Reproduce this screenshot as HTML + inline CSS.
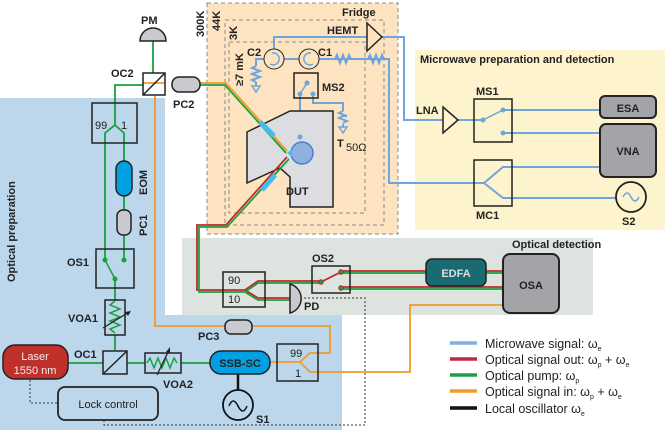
<!DOCTYPE html><html><head><meta charset="utf-8"><style>body{margin:0;background:#fff}svg{display:block}text{font-family:"Liberation Sans",sans-serif;font-weight:bold;font-size:11px;fill:#222}</style></head><body>
<svg width="665" height="430" viewBox="0 0 665 430">
<path d="M0 98H165V315H342V430H0Z" fill="#bcd7ec"/>
<rect x="182" y="238" width="411" height="77" fill="#dde4df"/>
<rect x="415" y="50" width="250" height="180" fill="#fdf3cc"/>
<rect x="207" y="3" width="191" height="231" fill="#fde3bf" stroke="#888" stroke-dasharray="4,3"/>
<rect x="225" y="20" width="159" height="205" fill="none" stroke="#888" stroke-dasharray="4,3"/>
<rect x="229" y="42" width="136" height="171" fill="none" stroke="#888" stroke-dasharray="4,3"/>
<text x="342" y="16" font-size="12">Fridge</text>
<text transform="translate(204,37) rotate(-90)" font-size="12">300K</text>
<text transform="translate(220,31) rotate(-90)" font-size="12">44K</text>
<text transform="translate(237,40) rotate(-90)" font-size="12">3K</text>
<text transform="translate(243,86) rotate(-90)" font-size="12">≥7 mK</text>
<text x="420" y="63" font-size="11.5">Microwave preparation and detection</text>
<text x="512" y="248" font-size="11.5">Optical detection</text>
<text transform="translate(15,282) rotate(-90)" font-size="13.5">Optical   preparation</text>
<g fill="none" stroke="#6fa5dd" stroke-width="2">
<path d="M274 49V37H367M382 37H404V120H443M458 120H483M503 110H600M503 133H600"/>
<path d="M264 59H256V66M256 82V86M284 59H299M319 59H389V183H484L503 167H600M484 183L503 198H616"/>
<path d="M256 66l-4 2l8 3l-8 3l8 3l-8 3l4 2M335 59l2-4l3 8l3-8l3 8l3-8l2 4M368 59l2-4l3 8l3-8l3 8l3-8l2 4"/>
<path d="M300 94V137M313 94V103H343V111M343 124V127M343 111l-4 2l8 3l-4 0l-4 2l8 3l-4 2"/>
</g>
<path d="M252 86h8l-4 6zM339 127h8l-4 6z" fill="none" stroke="#6fa5dd" stroke-width="1.5"/>
<circle cx="274" cy="59" r="10" fill="#fde3bf" stroke="#222"/><path d="M272 53a6 6 0 1 1 -2 11" fill="none" stroke="#6fa5dd" stroke-width="1.5"/>
<circle cx="309" cy="59" r="10" fill="#fde3bf" stroke="#222"/><path d="M311 53a6 6 0 1 0 2 11" fill="none" stroke="#6fa5dd" stroke-width="1.5"/>
<text x="247" y="56" font-size="12">C2</text><text x="318" y="56" font-size="12">C1</text>
<path d="M367 23L382 37L367 51Z" fill="none" stroke="#222" stroke-width="1.5"/>
<text x="327" y="34" font-size="12">HEMT</text>
<rect x="294" y="73" width="24" height="25" fill="none" stroke="#222" stroke-width="1.5"/>
<path d="M300 94L307 83" stroke="#6fa5dd" stroke-width="1.5"/>
<circle cx="300" cy="94" r="2.5" fill="#6fa5dd"/><circle cx="307" cy="83" r="2.5" fill="#6fa5dd"/><circle cx="313" cy="94" r="2.5" fill="#6fa5dd"/>
<text x="322" y="91" font-size="12">MS2</text>
<text x="337" y="147" font-size="14">T</text><text x="346" y="151" font-size="6" style="font-weight:normal">50Ω</text>
<path d="M247 132L290 111H333V207H290V177L280 168L247 183Z" fill="#dcdde0" stroke="#222" stroke-width="1.5"/>
<circle cx="302" cy="153" r="11" fill="#8fb0e0" stroke="#4a7fc8" stroke-width="1.5"/>
<circle cx="300" cy="137" r="2.5" fill="#6fa5dd"/>
<path d="M287 153l5-4v8z" fill="#3cc0f0"/>
<text x="286" y="195" font-size="13">DUT</text>
<g fill="none" stroke-width="1.8">
<path d="M153 41V73" stroke="#1aa040"/>
<path d="M155 95V326H225M252 326H330V353H310L300 362L310 372H410V305H503M270 362H300" stroke="#f39b25"/>
<path d="M200 83H226L287 151" stroke="#f39b25"/>
<path d="M200 85H225L286 153M143 85H115V125L105 133V260M115 125L124 133V161M124 196V210M124 235V260M115 279V300M115 335V350M68 363H103M127 363H145M181 363H210" stroke="#1aa040"/>
<path d="M143 83H165" stroke="#f39b25"/>
<path d="M287 157L226 225H197V290H224L245 290L258 281H321M341 271H426M486 271H504M341 287H504M245 290L258 298H290" stroke="#c0282c"/>
<path d="M289 159L227 227H199V292H224L245 292L258 283H321M341 273H426M486 273H504M341 289H504M245 292L258 300H290" stroke="#1aa040"/>
<path d="M321 282L341 272" stroke="#c0282c"/>
</g>
<path d="M260 122l14 14" stroke="#3cc0f0" stroke-width="5"/>
<path d="M262 190l13-15" stroke="#3cc0f0" stroke-width="5"/>
<path d="M238 374V390" stroke="#111" stroke-width="2.5"/>
<path d="M30 380V403H58M104 420V425H365V298H303" fill="none" stroke="#333" stroke-dasharray="2,2"/>
<path d="M140 41a13 13 0 0 1 26 0z" fill="#c8cacf" stroke="#222" stroke-width="1.5"/>
<text x="141" y="24" font-size="12">PM</text>
<rect x="143" y="73" width="22" height="22" fill="none" stroke="#222" stroke-width="1.5"/><path d="M143 95L165 73" stroke="#222" stroke-width="1.5"/>
<text x="111" y="77" font-size="12">OC2</text>
<rect x="172" y="77" width="28" height="15" rx="7" fill="#c8cacf" stroke="#222" stroke-width="1.5"/>
<text x="173" y="108" font-size="12">PC2</text>
<rect x="92" y="103" width="45" height="40" fill="none" stroke="#222" stroke-width="1.5"/>
<text x="95" y="129" font-size="12" style="font-weight:normal">99</text><text x="121" y="129" font-size="12" style="font-weight:normal">1</text>
<rect x="116" y="161" width="16" height="35" rx="8" fill="#00a0e3" stroke="#222" stroke-width="1.5"/>
<text transform="translate(147,195) rotate(-90)" font-size="12">EOM</text>
<rect x="117" y="210" width="14" height="25" rx="6" fill="#c8cacf" stroke="#222" stroke-width="1.5"/>
<text transform="translate(147,236) rotate(-90)" font-size="12">PC1</text>
<rect x="96" y="249" width="38" height="39" fill="none" stroke="#222" stroke-width="1.5"/>
<path d="M105 260L115 279" stroke="#1aa040" stroke-width="1.5"/>
<circle cx="105" cy="260" r="2.5" fill="#1aa040"/><circle cx="124" cy="260" r="2.5" fill="#1aa040"/><circle cx="115" cy="279" r="2.5" fill="#1aa040"/>
<text x="67" y="266" font-size="12">OS1</text>
<rect x="105" y="300" width="20" height="35" fill="none" stroke="#222" stroke-width="1.5"/>
<path d="M115 301l-5 4l10 4l-10 4l10 4l-10 4l10 4l-10 4l5 4" fill="none" stroke="#1aa040" stroke-width="1.5"/>
<path d="M103 328L129 312" stroke="#222" stroke-width="1.3"/><path d="M131 311l-6 1l3 4z" fill="#222"/>
<text x="68" y="322" font-size="12">VOA1</text>
<rect x="103" y="351" width="24" height="23" fill="none" stroke="#222" stroke-width="1.5"/><path d="M103 374L127 351" stroke="#222" stroke-width="1.5"/>
<text x="74" y="358" font-size="12">OC1</text>
<rect x="3" y="345" width="65" height="34" rx="12" fill="#c0302a" stroke="#222" stroke-width="1.5"/>
<text x="35" y="360" text-anchor="middle" font-size="12" style="font-weight:normal;fill:#eee">Laser</text>
<text x="35" y="374" text-anchor="middle" font-size="12" style="font-weight:normal;fill:#eee">1550 nm</text>
<rect x="145" y="353" width="36" height="20" fill="none" stroke="#222" stroke-width="1.5"/>
<path d="M147 363l3-5l4 10l4-10l4 10l4-10l4 10l4-10l3 5" fill="none" stroke="#1aa040" stroke-width="1.5"/>
<path d="M157 375L169 350" stroke="#222" stroke-width="1.3"/><path d="M170 347l-4 5l4 1z" fill="#222"/>
<text x="163" y="388" font-size="12">VOA2</text>
<rect x="210" y="351" width="60" height="23" rx="11" fill="#00a0e3" stroke="#222" stroke-width="1.5"/>
<text x="240" y="367" text-anchor="middle" font-size="12">SSB-SC</text>
<circle cx="238" cy="405" r="15" fill="none" stroke="#111" stroke-width="1.8"/><path d="M229 406q4-10 9 0t9 0" fill="none" stroke="#111" stroke-width="1.5"/>
<text x="256" y="423" font-size="12">S1</text>
<rect x="58" y="387" width="100" height="33" rx="7" fill="none" stroke="#222" stroke-width="1.8"/>
<text x="108" y="408" text-anchor="middle" font-size="12.5" style="font-weight:normal">Lock control</text>
<rect x="225" y="320" width="27" height="14" rx="6" fill="#c8cacf" stroke="#222" stroke-width="1.5"/>
<text x="198" y="340" font-size="12">PC3</text>
<rect x="277" y="344" width="41" height="37" fill="none" stroke="#222" stroke-width="1.5"/>
<text x="290" y="357" font-size="11" style="font-weight:normal">99</text><text x="295" y="377" font-size="11" style="font-weight:normal">1</text>
<rect x="223" y="272" width="42" height="35" fill="none" stroke="#222" stroke-width="1.5"/>
<text x="228" y="284" font-size="11" style="font-weight:normal">90</text><text x="228" y="303" font-size="11" style="font-weight:normal">10</text>
<path d="M290 284a15 15 0 0 1 0 29z" fill="#c8cacf" stroke="#222" stroke-width="1.5"/>
<text x="304" y="310" font-size="12">PD</text>
<rect x="312" y="266" width="38" height="27" fill="none" stroke="#222" stroke-width="1.5"/>
<circle cx="321" cy="282" r="2.3" fill="#1aa040" stroke="#c0282c"/><circle cx="341" cy="272" r="2.3" fill="#1aa040" stroke="#c0282c"/><circle cx="341" cy="288" r="2.3" fill="#1aa040" stroke="#c0282c"/>
<text x="312" y="262" font-size="12">OS2</text>
<rect x="426" y="259" width="60" height="27" rx="6" fill="#1a6a72" stroke="#222" stroke-width="1.5"/>
<text x="456" y="277" text-anchor="middle" font-size="12" style="fill:#ddd">EDFA</text>
<rect x="503" y="254" width="56" height="59" rx="7" fill="#a3a4a8" stroke="#222" stroke-width="2"/>
<text x="531" y="289" text-anchor="middle" font-size="12">OSA</text>
<path d="M443 107L458 120L443 133Z" fill="none" stroke="#222" stroke-width="1.5"/>
<text x="416" y="114" font-size="12">LNA</text>
<rect x="474" y="99" width="38" height="43" fill="none" stroke="#222" stroke-width="1.5"/>
<path d="M483 120L503 110" stroke="#6fa5dd" stroke-width="1.5"/>
<circle cx="483" cy="120" r="2.5" fill="#6fa5dd"/><circle cx="503" cy="110" r="2.5" fill="#6fa5dd"/><circle cx="503" cy="133" r="2.5" fill="#6fa5dd"/>
<text x="476" y="95" font-size="12">MS1</text>
<rect x="474" y="160" width="38" height="46" fill="none" stroke="#222" stroke-width="1.5"/>
<text x="476" y="219" font-size="12">MC1</text>
<rect x="600" y="96" width="56" height="22" rx="5" fill="#a3a4a8" stroke="#222" stroke-width="2"/>
<text x="628" y="112" text-anchor="middle" font-size="12">ESA</text>
<rect x="600" y="124" width="56" height="53" rx="6" fill="#a3a4a8" stroke="#222" stroke-width="2"/>
<text x="628" y="155" text-anchor="middle" font-size="12">VNA</text>
<circle cx="631" cy="197" r="15" fill="none" stroke="#222" stroke-width="1.8"/><path d="M623 197q4-8 8 0t8 0" fill="none" stroke="#6fa5dd" stroke-width="1.5"/>
<text x="622" y="225" font-size="12">S2</text>
<g stroke-width="3.5"><path d="M450 343H477" stroke="#7fb0e0"/><path d="M450 359H477" stroke="#c0283c"/><path d="M450 375H477" stroke="#1aa040"/><path d="M450 391H477" stroke="#f39b25"/><path d="M450 408H477" stroke="#111"/></g>
<text x="485" y="348" style="font-weight:normal;font-size:12.5px">Microwave signal: ω<tspan font-size="7" dy="3">e</tspan></text>
<text x="485" y="364" style="font-weight:normal;font-size:12.5px">Optical signal out: ω<tspan font-size="7" dy="3">p</tspan><tspan dy="-3"> + ω</tspan><tspan font-size="7" dy="3">e</tspan></text>
<text x="485" y="380" style="font-weight:normal;font-size:12.5px">Optical pump: ω<tspan font-size="7" dy="3">p</tspan></text>
<text x="485" y="396" style="font-weight:normal;font-size:12.5px">Optical signal in: ω<tspan font-size="7" dy="3">p</tspan><tspan dy="-3"> + ω</tspan><tspan font-size="7" dy="3">e</tspan></text>
<text x="485" y="413" style="font-weight:normal;font-size:12.5px">Local oscillator ω<tspan font-size="7" dy="3">e</tspan></text>
</svg></body></html>
